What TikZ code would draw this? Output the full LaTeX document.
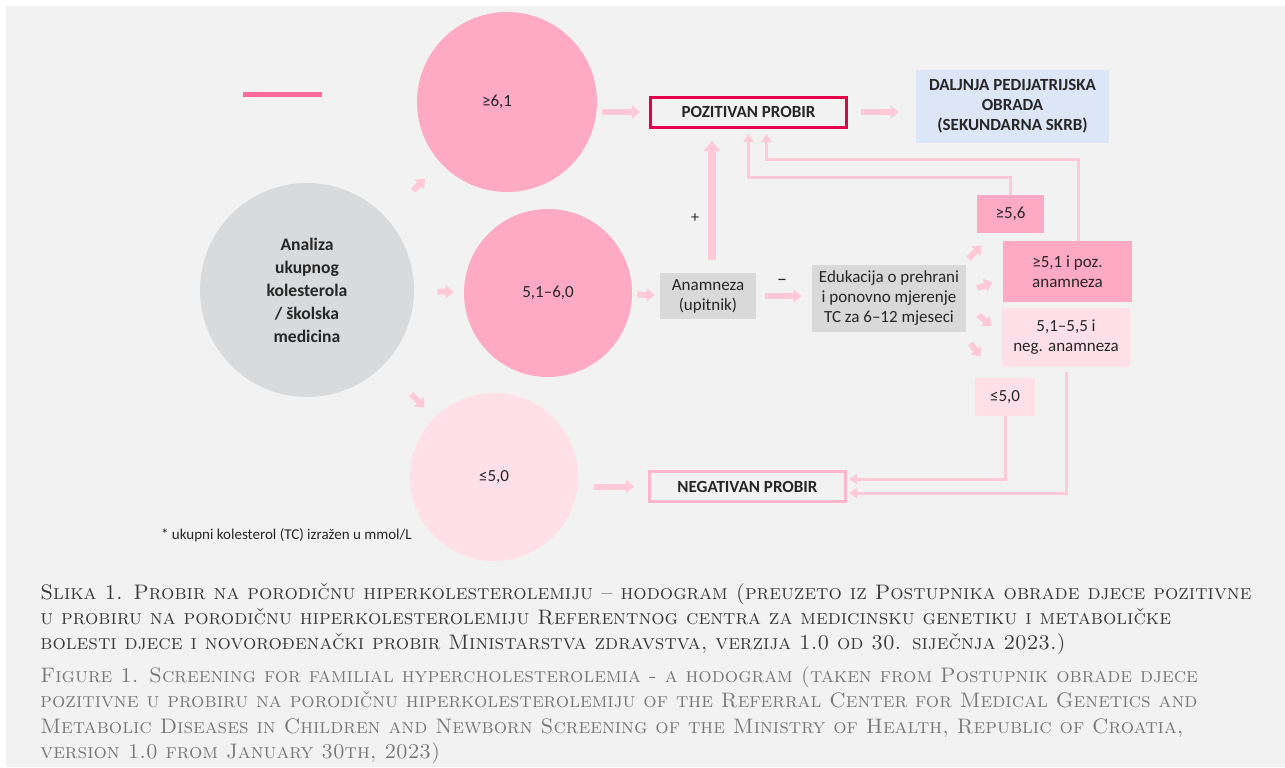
\documentclass[tikz,border=0pt]{standalone}
\usepackage{fontspec}
\usepackage{tikz}
\usepackage{xcolor}
\usetikzlibrary{arrows.meta, positioning, calc}
\setmainfont{Carlito}
\newfontfamily\capfont[SmallCapsFont={Latin Modern Roman Caps}]{Latin Modern Roman}
\definecolor{bgcolor}{RGB}{242,242,242}
\definecolor{textcolor}{RGB}{38,38,38}
\definecolor{greycolor}{RGB}{217,218,219}
\definecolor{boxgrey}{RGB}{217,217,217}
\definecolor{pinkcolor}{RGB}{255,170,197}
\definecolor{lightpink}{RGB}{255,224,232}
\definecolor{arrowcolor}{RGB}{255,201,216}
\definecolor{poscolor}{RGB}{230,0,76}
\definecolor{negcolor}{RGB}{255,182,204}
\definecolor{bluecolor}{RGB}{220,230,247}
\definecolor{markcolor}{RGB}{255,105,155}
\definecolor{capdark}{RGB}{58,58,58}
\definecolor{caplight}{RGB}{120,120,120}
\tikzstyle{circ} = [circle, inner sep=0pt, text=textcolor, align=center, font=\fontsize{8.5}{11.5}\selectfont]
\tikzstyle{box} = [rectangle, inner sep=0pt, text=textcolor, align=center, font=\fontsize{8.5}{10}\selectfont]
\tikzstyle{probir} = [box, line width=1.5pt, minimum width=98pt, minimum height=15pt, font=\fontsize{8.5}{10}\selectfont\bfseries]
\tikzstyle{blockarrow} = [-{Triangle[width=6.5pt,length=4pt]}, line width=3pt, draw=arrowcolor]
\tikzstyle{bigarrow} = [-{Triangle[width=8pt,length=5pt]}, line width=4pt, draw=arrowcolor]
\tikzstyle{link} = [-{Triangle[width=5pt,length=4pt]}, line width=1.5pt, draw=arrowcolor]

\begin{document}
\begin{tikzpicture}[x=0.5pt, y=-0.5pt]
    \useasboundingbox (0,0) rectangle (1285,767);
    \fill[white] (0,0) rectangle (1285,767);
    \fill[bgcolor] (6,6) rectangle (1285,767);
    \draw[markcolor, line width=2.5pt] (243,94) -- (322,94);

    % Cholesterol ranges
    \node[circ, fill=greycolor, minimum size=107pt, font=\fontsize{8.8}{11.5}\selectfont\bfseries] (ana) at (307,290) {Analiza\\ukupnog\\kolesterola\\/ školska\\medicina};
    \node[circ, fill=pinkcolor, minimum size=90pt] (c61) at (507,102) {≥6,1\hspace*{10pt}};
    \node[circ, fill=pinkcolor, minimum size=84pt] (c51) at (548,293) {5,1–6,0};
    \node[circ, fill=lightpink, minimum size=84pt] (c50) at (494,477) {≤5,0};

    \node[probir, draw=poscolor] (poz) at (748.5,112) {POZITIVAN PROBIR};
    \node[box, fill=bluecolor, minimum width=96.5pt, minimum height=36.5pt, font=\fontsize{8.5}{10}\selectfont\bfseries] (dal) at (1012.5,106.5) {DALJNJA PEDIJATRIJSKA\\OBRADA\\(SEKUNDARNA SKRB)};
    \node[box, fill=boxgrey, minimum width=48pt, minimum height=23pt] (anam) at (708,296) {Anamneza\\(upitnik)};
    \node[box, fill=boxgrey, minimum width=77pt, minimum height=33.5pt] (edu) at (889,298.5) {Edukacija o prehrani\\i ponovno mjerenje\\TC za 6–12 mjeseci};
    \node[probir, draw=negcolor] (neg) at (747.5,486.5) {NEGATIVAN PROBIR};

    % Control measurement
    \node[box, fill=pinkcolor, minimum width=33.5pt, minimum height=19pt] (b56) at (1010.5,214) {≥5,6};
    \node[box, fill=pinkcolor, minimum width=64.5pt, minimum height=30.5pt] (b51) at (1067.5,271.5) {≥5,1 i poz.\\anamneza};
    \node[box, fill=lightpink, minimum width=64pt, minimum height=29.5pt] (b55) at (1066,337.5) {5,1–5,5 i\\neg. anamneza};
    \node[box, fill=lightpink, minimum width=30pt, minimum height=19pt] (b50) at (1005,397) {≤5,0};

    \node[text=textcolor, font=\fontsize{8}{10}\selectfont] (plus) at (695,218) {+};
    \node[text=textcolor, font=\fontsize{10}{10}\selectfont] (minus) at (782,282) {–};
    \node[anchor=west, text=textcolor, font=\fontsize{7.5}{9}\selectfont] (note) at (154,535) {* ukupni kolesterol (TC) izražen u mmol/L};

    \draw[blockarrow, shorten <=19pt, shorten >=11pt] (ana) -- (c61);
    \draw[blockarrow, shorten <=11.5pt, shorten >=5pt] (ana) -- (c51);
    \draw[blockarrow, shorten <=20pt, shorten >=7pt] (ana) -- (c50);
    \draw[blockarrow, shorten <=2.5pt, shorten >=4.5pt] (c61.east |- poz.west) -- (poz.west);
    \draw[blockarrow, shorten <=2.5pt, shorten >=2.5pt] (c51) -- (anam);
    \draw[blockarrow, shorten <=8pt, shorten >=7pt] (c50.east |- neg.west) -- (neg.west);
    \draw[blockarrow, shorten <=6.5pt, shorten >=8.5pt] (poz.east) -- (poz.east -| dal.west);
    \draw[blockarrow, shorten <=4.5pt, shorten >=5pt] (anam.east) -- (anam.east -| edu.west);
    \coordinate (up) at ($(anam.north)+(4,0)$);
    \draw[bigarrow, shorten <=6.5pt, shorten >=6.25pt] (up) -- (up |- poz.south);

    \draw[blockarrow] ($(edu.north east)+(2,-6)$) -- ($(b56.south west)+(5,12)$);
    \draw[blockarrow] ($(edu.east)+(11,-10.5)$) -- ($(b51.south west)+(-10,-20)$);
    \draw[blockarrow] ($(edu.east)+(12,16.5)$) -- ($(b55.west)+(-10,-11.5)$);
    \draw[blockarrow] ($(edu.south east)+(4,11)$) -- ($(b50.north west)+(6,-21)$);

    \draw[link, shorten >=2.75pt] (b56.north) |- ($(poz.south)+(0,49)$) -- (poz.south);
    \draw[link, shorten >=2.75pt] ($(b51.north)+(10.5,0)$) |- ($(poz.south)+(18,31)$) -- ($(poz.south)+(18,0)$);
    \draw[link, shorten >=1pt] (b50.south) |- ($(neg.east)+(0,-7.5)$);
    \draw[link, shorten <=2.5pt, shorten >=1pt] (b55.south) |- ($(neg.east)+(0,6.5)$);

    % Caption
    \node[anchor=north west, inner sep=0pt, align=left, text=capdark, font=\capfont\scshape\fontsize{10.5}{12.5}\selectfont] (slika) at (40,583) {Slika 1. Probir na porodičnu hiperkolesterolemiju – hodogram (preuzeto iz Postupnika obrade djece pozitivne\\u probiru na porodičnu hiperkolesterolemiju Referentnog centra za medicinsku genetiku i metaboličke\\bolesti djece i novorođenački probir Ministarstva zdravstva, verzija 1.0 od 30. siječnja 2023.)};
    \node[anchor=north west, inner sep=0pt, align=left, text=caplight, font=\capfont\scshape\fontsize{10.5}{12.8}\selectfont] (figure) at (40,666) {Figure 1. Screening for familial hypercholesterolemia - a hodogram (taken from Postupnik obrade djece\\pozitivne u probiru na porodičnu hiperkolesterolemiju of the Referral Center for Medical Genetics and\\Metabolic Diseases in Children and Newborn Screening of the Ministry of Health, Republic of Croatia,\\version 1.0 from January 30th, 2023)};
\end{tikzpicture}
\end{document}
